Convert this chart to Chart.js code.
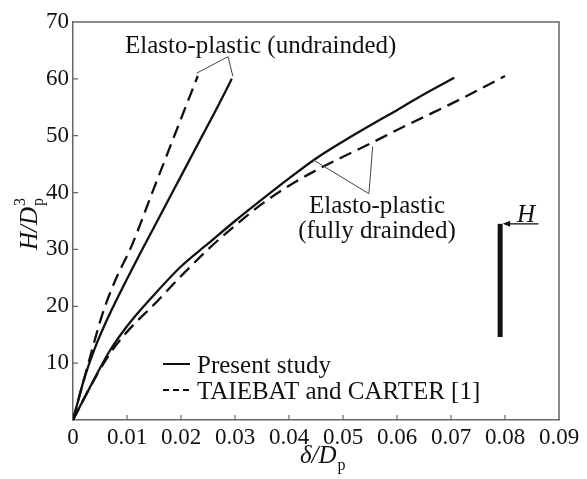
<!DOCTYPE html>
<html>
<head>
<meta charset="utf-8">
<script src="https://cdn.jsdelivr.net/npm/chart.js@4.4.0/dist/chart.umd.min.js"></script>
<style>
  body { margin: 0; background: #fff; }
  #wrap { width: 587px; height: 479px; }
</style>
</head>
<body>
<div id="wrap"><canvas id="pileChart" width="587" height="479"></canvas></div>
<script>
// delta/Dp (x) and H/Dp^3 (y)
const undrainedPresentX = [0, 0.002, 0.004, 0.006, 0.008, 0.010, 0.0125, 0.015, 0.018, 0.021, 0.024, 0.027, 0.0294]
const undrainedPresentY = [0, 7, 12.5, 17, 21, 24.8, 29.4, 33.9, 39.3, 44.7, 50.1, 55.5, 60]

const undrainedTaiebatX = [0, 0.0017, 0.003, 0.0054, 0.0078, 0.0108, 0.0148, 0.0189, 0.0231]
const undrainedTaiebatY = [0, 6, 10.5, 18.5, 24.5, 30.5, 40.3, 50.3, 60.5]

const drainedPresentX = [0, 0.003, 0.0067, 0.01, 0.015, 0.02, 0.025, 0.03, 0.035, 0.04, 0.045, 0.05, 0.055, 0.06, 0.065, 0.0706]
const drainedPresentY = [0, 5.5, 12, 16.5, 22, 27, 31, 35, 38.8, 42.5, 46, 49, 51.8, 54.5, 57.3, 60.2]

const drainedTaiebatX = [0, 0.003, 0.0067, 0.01, 0.0152, 0.02, 0.025, 0.03, 0.035, 0.04, 0.045, 0.05, 0.055, 0.06, 0.065, 0.07, 0.075, 0.08]
const drainedTaiebatY = [0, 5.5, 11.5, 15.5, 20.5, 25.3, 30, 34.2, 38, 41.2, 43.9, 46.3, 48.6, 51, 53.3, 55.6, 58, 60.5]

const seriesNames = ['Present study', 'TAIEBAT and CARTER [1]']
const xTicks = [0, 0.01, 0.02, 0.03, 0.04, 0.05, 0.06, 0.07, 0.08, 0.09]
const yTicks = [0, 10, 20, 30, 40, 50, 60, 70]

const undrainedNote = 'Elasto-plastic (undrainded)'
const drainedNote = ['Elasto-plastic', '(fully drainded)']

const serif = '"Liberation Serif", "Times New Roman", serif'
const ink = '#111'
const textInk = '#111'
const axisGrey = '#666'

function toPoints(xs, ys) {
  return xs.map((x, i) => ({ x: x, y: ys[i] }))
}

function lineSet(label, xs, ys, dashed) {
  return {
    label: label,
    data: toPoints(xs, ys),
    borderColor: ink,
    borderWidth: 2.3,
    borderDash: dashed ? [13, 7] : [],
    pointRadius: 0,
    fill: false,
    cubicInterpolationMode: 'monotone'
  }
}

// frame, inward ticks, titles, legend and callouts
const decorations = {
  id: 'decorations',
  afterDraw(chart) {
    const ctx = chart.ctx
    const area = chart.chartArea
    const xs = chart.scales.x
    const ys = chart.scales.y
    const px = v => xs.getPixelForValue(v)
    const py = v => ys.getPixelForValue(v)

    ctx.save()
    ctx.strokeStyle = axisGrey
    ctx.lineWidth = 1.5
    ctx.beginPath()
    ctx.moveTo(area.left, area.top)
    ctx.lineTo(area.right, area.top)
    ctx.lineTo(area.right, area.bottom)
    ctx.stroke()

    ctx.lineWidth = 1.2
    ctx.beginPath()
    for (const t of xTicks.slice(1, -1)) {
      ctx.moveTo(px(t), area.bottom)
      ctx.lineTo(px(t), area.bottom - 5)
    }
    for (const t of yTicks.slice(1, -1)) {
      ctx.moveTo(area.left, py(t))
      ctx.lineTo(area.left + 5, py(t))
    }
    ctx.stroke()

    ctx.fillStyle = textInk
    ctx.textBaseline = 'alphabetic'

    // x title: delta / D_p
    ctx.font = 'italic 25px ' + serif
    ctx.textAlign = 'left'
    ctx.fillText('δ/D', 300, 463)
    let w = ctx.measureText('δ/D').width
    ctx.font = '16px ' + serif
    ctx.fillText('p', 300 + w + 1, 470)

    // y title: H / D_p^3, rotated
    ctx.save()
    ctx.translate(37, 250)
    ctx.rotate(-Math.PI / 2)
    ctx.font = 'italic 25px ' + serif
    ctx.fillText('H/D', 0, 0)
    w = ctx.measureText('H/D').width
    ctx.font = '16px ' + serif
    ctx.fillText('3', w + 1, -12)
    ctx.fillText('p', w + 1, 6)
    ctx.restore()

    // legend
    ctx.strokeStyle = ink
    ctx.lineWidth = 2
    ctx.beginPath()
    ctx.moveTo(163, 364)
    ctx.lineTo(190, 364)
    ctx.stroke()
    ctx.setLineDash([6, 4])
    ctx.beginPath()
    ctx.moveTo(163, 390)
    ctx.lineTo(190, 390)
    ctx.stroke()
    ctx.setLineDash([])
    ctx.font = '25px ' + serif
    ctx.fillStyle = textInk
    ctx.fillText(seriesNames[0], 197, 373)
    ctx.fillText(seriesNames[1], 197, 399)

    // callout for the undrained pair
    ctx.fillText(undrainedNote, 125, 53)
    ctx.strokeStyle = '#444'
    ctx.lineWidth = 1
    ctx.beginPath()
    ctx.moveTo(px(0.0229), py(61))
    ctx.lineTo(px(0.0287), py(63.9))
    ctx.lineTo(px(0.0296), py(60.5))
    ctx.stroke()

    // callout for the drained pair
    ctx.textAlign = 'center'
    ctx.fillText(drainedNote[0], 377, 213)
    ctx.fillText(drainedNote[1], 377, 238)
    ctx.beginPath()
    ctx.moveTo(px(0.0444), py(45.8))
    ctx.lineTo(px(0.0548), py(39.8))
    ctx.lineTo(px(0.0555), py(48.1))
    ctx.stroke()

    // pile sketch with the load H
    ctx.fillStyle = ink
    ctx.fillRect(px(0.0791) - 2.5, py(34.5), 5, py(14.6) - py(34.5))
    ctx.strokeStyle = '#333'
    ctx.lineWidth = 1.5
    ctx.beginPath()
    ctx.moveTo(px(0.0791) + 8, py(34.5))
    ctx.lineTo(px(0.0862), py(34.5))
    ctx.stroke()
    ctx.fillStyle = ink
    ctx.beginPath()
    ctx.moveTo(px(0.0791) + 2.5, py(34.5))
    ctx.lineTo(px(0.0791) + 10, py(34.5) - 3)
    ctx.lineTo(px(0.0791) + 10, py(34.5) + 3)
    ctx.closePath()
    ctx.fill()
    ctx.fillStyle = textInk
    ctx.textAlign = 'left'
    ctx.font = 'italic 25px ' + serif
    ctx.fillText('H', 517, 222)

    ctx.restore()
  }
}

function createPileChart() {
  const ctx = document.getElementById('pileChart')

  new Chart(ctx, {
    type: 'line',
    data: {
      datasets: [
        lineSet(seriesNames[0], undrainedPresentX, undrainedPresentY, false),
        lineSet(seriesNames[1], undrainedTaiebatX, undrainedTaiebatY, true),
        lineSet(seriesNames[0], drainedPresentX, drainedPresentY, false),
        lineSet(seriesNames[1], drainedTaiebatX, drainedTaiebatY, true)
      ]
    },
    options: {
      responsive: false,
      animation: false,
      layout: { padding: { top: 22, right: 28, left: 0, bottom: 0 } },
      plugins: {
        legend: { display: false },
        tooltip: { enabled: false }
      },
      scales: {
        x: {
          type: 'linear',
          min: 0,
          max: 0.09,
          afterBuildTicks: scale => { scale.ticks = xTicks.map(v => ({ value: v })) },
          afterFit: scale => { scale.height = 59 },
          grid: { display: false, drawTicks: false },
          border: { display: true, color: axisGrey, width: 1.5 },
          ticks: {
            autoSkip: false,
            maxRotation: 0,
            padding: 4,
            color: textInk,
            font: { family: serif, size: 23 },
            callback: v => v === 0 ? '0' : (Math.round(v * 100) / 100).toFixed(2)
          }
        },
        y: {
          min: 0,
          max: 70,
          afterBuildTicks: scale => { scale.ticks = yTicks.map(v => ({ value: v })) },
          afterFit: scale => { scale.width = 73 },
          grid: { display: false, drawTicks: false },
          border: { display: true, color: axisGrey, width: 1.5 },
          ticks: {
            padding: 4,
            color: textInk,
            font: { family: serif, size: 23 },
            callback: v => v === 0 ? '' : String(v)
          }
        }
      }
    },
    plugins: [decorations]
  })
}

document.addEventListener('DOMContentLoaded', () => createPileChart())
</script>
</body>
</html>
